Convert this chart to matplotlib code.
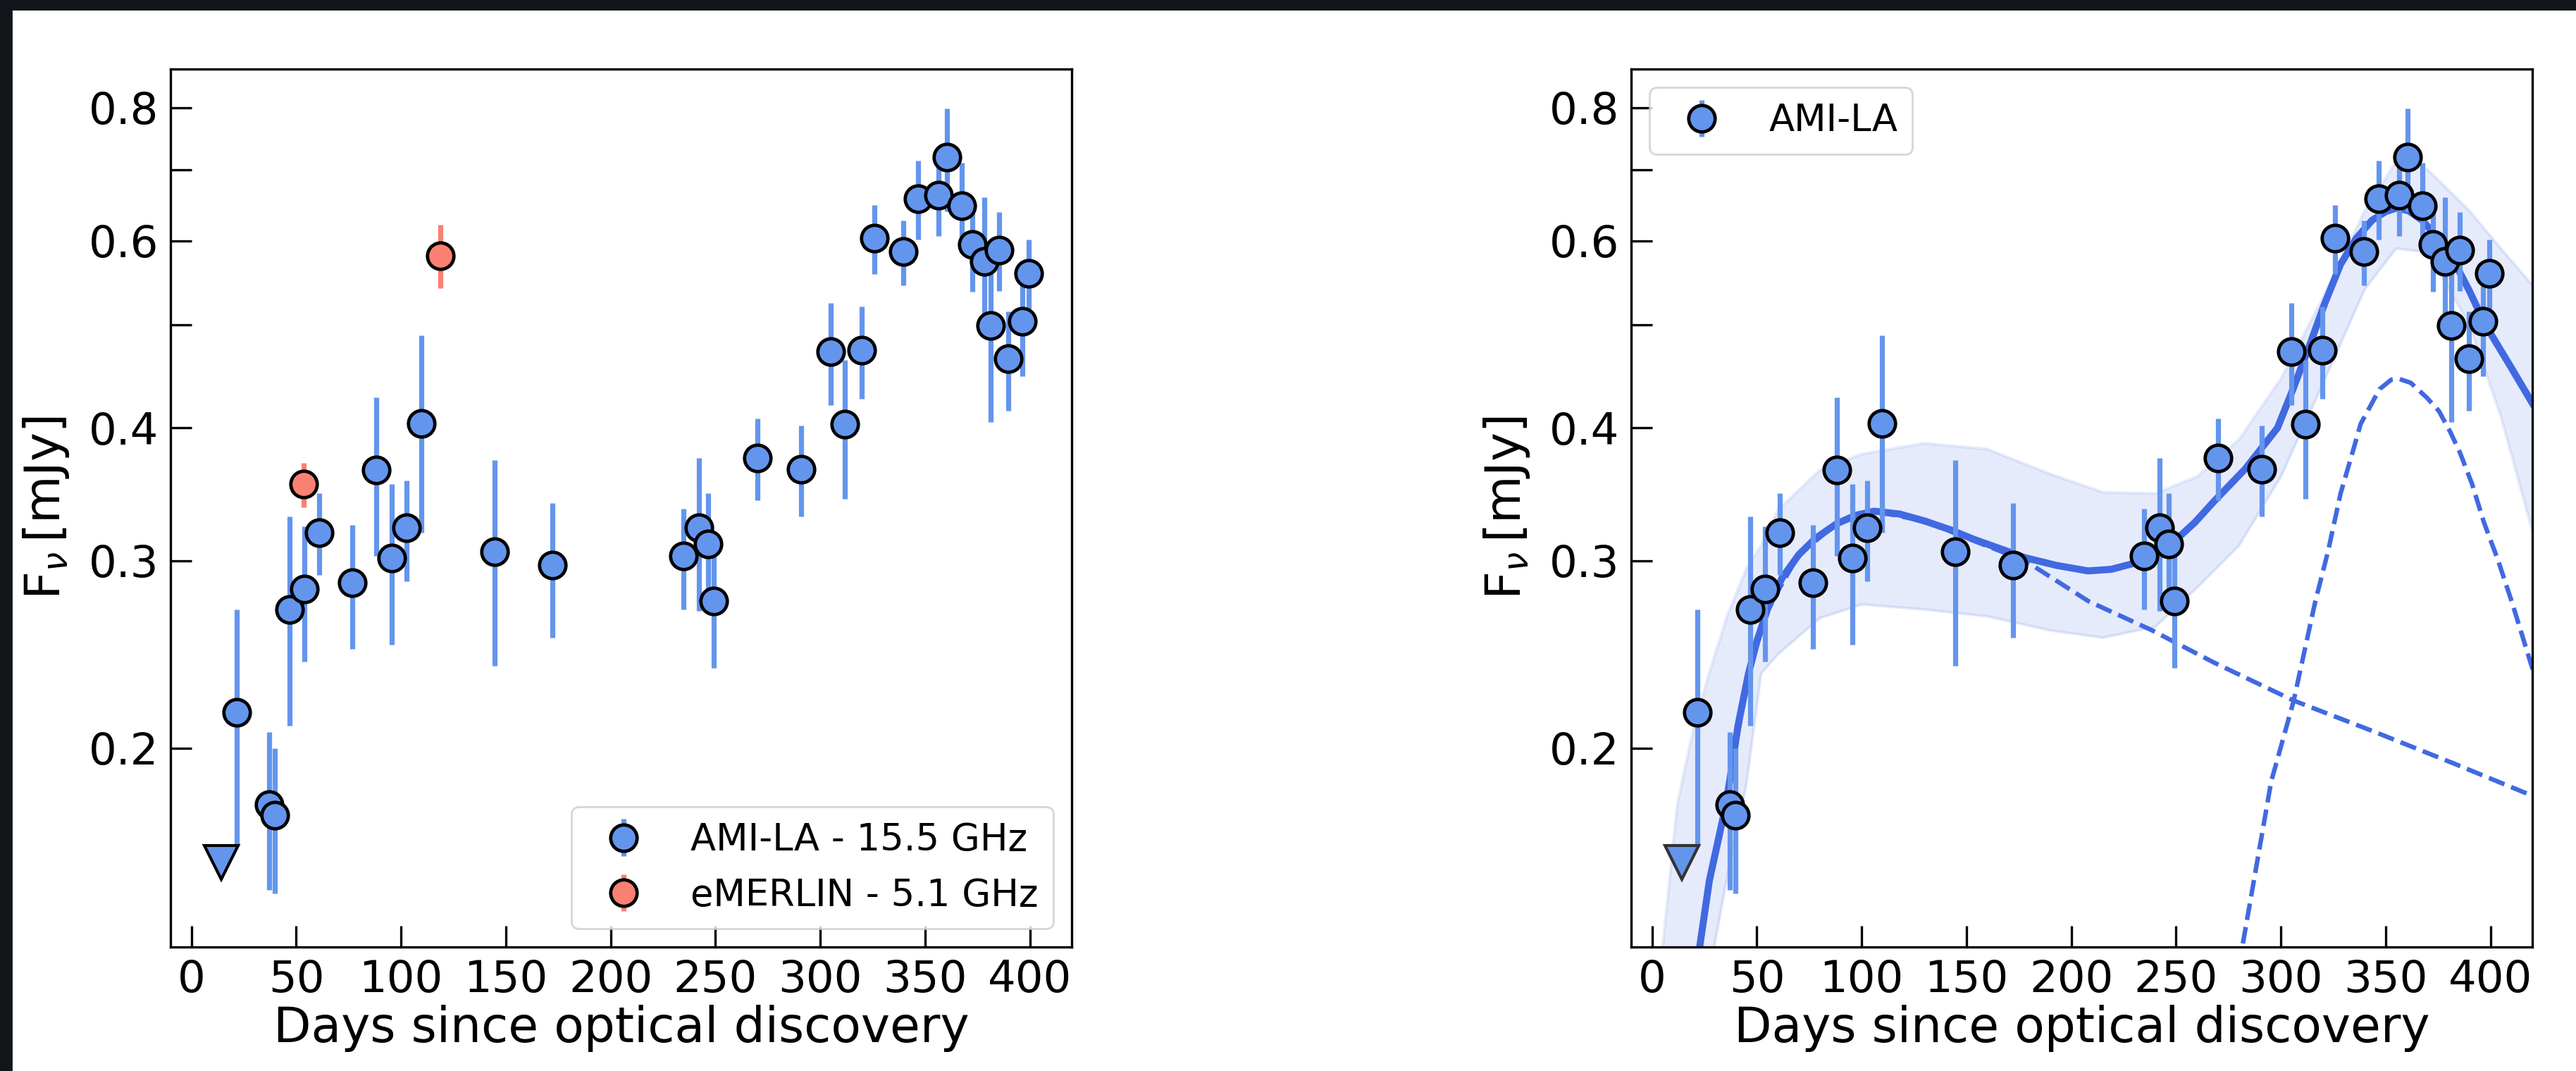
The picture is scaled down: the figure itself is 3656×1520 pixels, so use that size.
import matplotlib
matplotlib.use("Agg")
import matplotlib.pyplot as plt
from matplotlib.ticker import FixedLocator, NullFormatter
from matplotlib.patches import Rectangle

# ----------------- Data -----------------
ami_days = [21.6, 36.9, 39.6, 46.8, 53.8, 61.0, 76.6, 88.3, 95.5, 102.7, 109.6,
            144.7, 172.3, 234.8, 242.0, 246.5, 249.2, 269.9, 290.9, 305.0, 311.6,
            319.7, 325.8, 339.8, 346.8, 356.4, 360.6, 367.5, 372.6, 378.3, 381.3,
            385.5, 389.7, 396.6, 399.6]
ami_flux = [0.216, 0.177, 0.173, 0.270, 0.282, 0.319, 0.286, 0.365, 0.302, 0.322, 0.404,
            0.306, 0.297, 0.303, 0.322, 0.311, 0.275, 0.375, 0.366, 0.472, 0.403,
            0.473, 0.603, 0.586, 0.657, 0.662, 0.719, 0.647, 0.595, 0.574, 0.499,
            0.588, 0.465, 0.504, 0.559]
ami_err = [0.054, 0.030, 0.027, 0.060, 0.041, 0.028, 0.038, 0.062, 0.052, 0.035, 0.085,
           0.067, 0.043, 0.033, 0.053, 0.036, 0.037, 0.033, 0.036, 0.052, 0.060,
           0.047, 0.045, 0.041, 0.056, 0.056, 0.080, 0.063, 0.058, 0.085, 0.094,
           0.050, 0.050, 0.057, 0.042]

ul_day = [14.1]
ul_flux = [0.156]

emerlin_days = [53.5, 118.9]
emerlin_flux = [0.354, 0.581]
emerlin_err = [0.017, 0.040]

# model fit (total) and its two components
fit_days = [22.7, 27.3, 34.6, 37, 41, 46, 50, 55, 62, 70, 78, 88, 97, 106, 118, 130,
            142, 154, 166, 178, 193, 208, 219, 229, 240, 250, 259, 268, 283, 298.4,
            306, 313.5, 321, 328.5, 336, 343.5, 350, 355.5, 361, 367.5, 375, 382.6,
            390, 397.6, 409, 420]
fit_flux = [0.13, 0.150, 0.1746, 0.186, 0.210, 0.235, 0.252, 0.270, 0.289, 0.304,
            0.315, 0.325, 0.331, 0.334, 0.332, 0.327, 0.321, 0.314, 0.308, 0.302,
            0.297, 0.2935, 0.2945, 0.298, 0.305, 0.314, 0.326, 0.341, 0.366, 0.400,
            0.436, 0.477, 0.524, 0.570, 0.603, 0.627, 0.639, 0.644, 0.640, 0.627,
            0.603, 0.574, 0.538, 0.500, 0.459, 0.422]

comp1_days = [22.7, 27.3, 34.6, 46, 55, 70, 88, 106, 130, 154, 178, 208.3, 238.3,
              268.4, 306, 343.5, 382.6, 420.2]
comp1_flux = [0.13, 0.150, 0.1746, 0.235, 0.270, 0.304, 0.325, 0.334, 0.327, 0.313,
              0.300, 0.2748, 0.2582, 0.2405, 0.2217, 0.2076, 0.1934, 0.1803]

comp2_days = [281.9, 295.4, 306, 316.5, 322.5, 328.5, 334.5, 338.1, 347.1, 352.7,
              356.2, 362, 369.7, 375.4, 381, 385.5, 391.2, 396.8, 403.6, 410.4, 420.2]
comp2_flux = [0.131, 0.186, 0.221, 0.275, 0.306, 0.347, 0.381, 0.4035, 0.435, 0.444,
              0.445, 0.441, 0.427, 0.415, 0.396, 0.379, 0.3545, 0.3265, 0.3005, 0.2738,
              0.237]

# spread of the posterior sample curves
band_days = [5, 12, 20, 28, 36, 45, 52, 60, 80, 100, 130, 160, 190, 215, 240, 260,
             280, 300, 320, 340, 355, 370, 390, 405, 420]
band_hi = [0.13, 0.177, 0.21, 0.238, 0.267, 0.295, 0.31, 0.335, 0.365, 0.378, 0.387,
           0.382, 0.362, 0.348, 0.347, 0.36, 0.39, 0.445, 0.53, 0.64, 0.712, 0.70,
           0.64, 0.59, 0.545]
band_lo = [0.12, 0.12, 0.12, 0.125, 0.152, 0.185, 0.235, 0.245, 0.265, 0.273, 0.27,
           0.266, 0.258, 0.254, 0.26, 0.283, 0.31, 0.36, 0.44, 0.54, 0.59, 0.585,
           0.50, 0.41, 0.32]

y_major = [0.2, 0.3, 0.4, 0.6, 0.8]
y_minor = [0.5, 0.7]
x_ticks = [0, 50, 100, 150, 200, 250, 300, 350, 400]

# ----------------- Figure -----------------
W, H = 3656, 1520
fig = plt.figure(figsize=(W / 200, H / 200), dpi=200)

# dark screenshot border (top and left)
fig.patches.append(Rectangle((0, 1 - 13 / H), 1, 13 / H, transform=fig.transFigure,
                             color="#121519", zorder=-10))
fig.patches.append(Rectangle((0, 0), 15.5 / W, 1, transform=fig.transFigure,
                             color="#121519", zorder=-10))

ax1 = fig.add_axes([242 / W, 176 / H, 1279 / W, 1246 / H])
ax2 = fig.add_axes([2315 / W, 176 / H, 1279 / W, 1246 / H])

pt_kw = dict(fmt="o", ms=13.5, mec="black", mew=1.7, elinewidth=2.6, capsize=0)

# ----------------- Left panel -----------------
ax1.errorbar(ami_days, ami_flux, yerr=ami_err, color="cornflowerblue",
             label="AMI-LA - 15.5 GHz", zorder=3, **pt_kw)
ax1.errorbar(emerlin_days, emerlin_flux, yerr=emerlin_err, color="salmon",
             label="eMERLIN - 5.1 GHz", zorder=3, **pt_kw)
ax1.plot(ul_day, ul_flux, "v", color="cornflowerblue", mec="black", mew=1.5,
         ms=17, zorder=3)
ax1.legend(loc="lower right", fontsize=19)

# ----------------- Right panel -----------------
ax2.fill_between(band_days, band_lo, band_hi, color="royalblue", alpha=0.13,
                 lw=0, zorder=1)
ax2.plot(band_days, band_hi, color="royalblue", alpha=0.12, lw=1.5, zorder=1)
ax2.plot(band_days, band_lo, color="royalblue", alpha=0.12, lw=1.5, zorder=1)
ax2.plot(comp1_days, comp1_flux, "--", color="royalblue", lw=2.3, zorder=2)
ax2.plot(comp2_days, comp2_flux, "--", color="royalblue", lw=2.3, zorder=2)
ax2.plot(fit_days, fit_flux, "-", color="royalblue", lw=3.6, zorder=2)
ax2.errorbar(ami_days, ami_flux, yerr=ami_err, color="cornflowerblue",
             label="AMI-LA", zorder=3, **pt_kw)
ax2.plot(ul_day, ul_flux, "v", color="cornflowerblue", mec="#333333", mew=1.5,
         ms=17, zorder=3)
ax2.legend(loc="upper left", fontsize=19)

# ----------------- Axes styling -----------------
for ax in (ax1, ax2):
    ax.set_yscale("log")
    ax.set_xlim(-10, 420)
    ax.set_ylim(0.13, 0.87)
    ax.yaxis.set_major_locator(FixedLocator(y_major))
    ax.yaxis.set_minor_locator(FixedLocator(y_minor))
    ax.yaxis.set_minor_formatter(NullFormatter())
    ax.set_yticklabels([str(v) for v in y_major])
    ax.set_xticks(x_ticks)
    ax.tick_params(which="both", direction="in", length=10.8, width=1.2,
                   labelsize=22.5, pad=6, top=False, right=False)
    for sp in ax.spines.values():
        sp.set_linewidth(1.2)
    ax.set_xlabel("Days since optical discovery", fontsize=25, labelpad=2)
    ax.set_ylabel(r"F$_{\nu}\,$[mJy]", fontsize=25, labelpad=9)

fig.savefig("out.png", dpi=200)
